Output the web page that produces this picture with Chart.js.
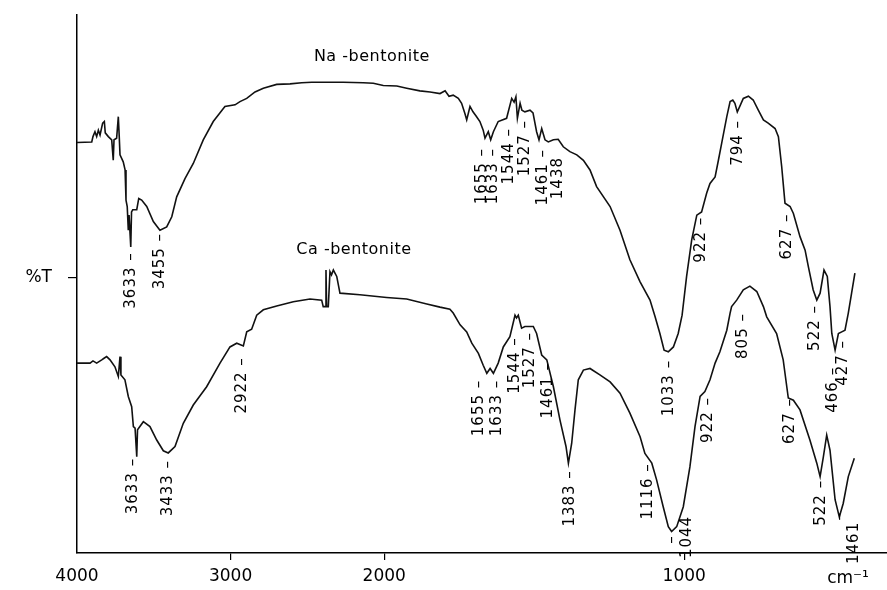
<!DOCTYPE html>
<html>
<head>
<meta charset="utf-8">
<script src="https://cdn.jsdelivr.net/npm/chart.js@4.4.0/dist/chart.umd.min.js"></script>
<style>
  html, body { margin: 0; padding: 0; background: #fff; }
  #wrap { width: 887px; height: 590px; }
</style>
</head>
<body>
<div id="wrap"><canvas id="irChart" width="887" height="590"></canvas></div>
<script>
// Wavenumber axis ticks (cm-1) and the single %T mark
const xTicks = [4000, 3000, 2000, 1000];
const yTicks = [51.2];
const yTickLabels = ["%T"];

// Na-bentonite trace: wavenumber / transmittance (arbitrary %T)
const naWave = [4000,3904,3896,3883,3872,3861,3850,3833,3822,3816,
  3796,3774,3764,3759,3742,3731,3725,3720,3699,3687,
  3681,3673,3666,3661,3650,3645,3637,3611,3598,3579,
  3546,3503,3460,3416,3383,3351,3297,3243,3178,3113,
  3037,2971,2939,2895,2841,2787,2700,2613,2537,2472,
  2374,2266,2136,2071,2006,1958,1925,1881,1847,1814,
  1797,1784,1770,1753,1742,1731,1725,1714,1704,1692,
  1681,1670,1664,1653,1645,1636,1620,1592,1575,1567,
  1561,1556,1547,1541,1531,1514,1504,1492,1484,1475,
  1464,1453,1436,1420,1403,1381,1358,1336,1314,1292,
  1247,1214,1181,1147,1114,1097,1081,1067,1053,1036,
  1020,1007,992,975,958,942,925,914,897,886,
  875,858,847,838,831,823,814,803,786,770,
  753,736,720,697,686,675,670,664,647,636,
  614,597,586,570,558,547,534,523,514,508,
  497,486,475,464,453,442,431];
const naT = [76.3,76.4,77.4,78.3,77.4,78.6,77.7,79.9,80.2,78.1,
  77.4,76.8,73.0,76.8,77.1,81.1,77.4,74.0,72.7,71.2,
  65.6,64.4,60.0,62.8,56.9,63.4,63.8,63.8,65.9,65.6,
  64.4,61.6,60.0,60.6,62.5,66.2,69.6,72.4,76.8,80.2,
  83.0,83.3,83.9,84.5,85.7,86.4,87.1,87.2,87.4,87.5,
  87.5,87.5,87.4,87.3,86.9,86.8,86.4,85.9,85.7,85.4,
  85.9,84.9,85.1,84.5,83.6,81.7,80.5,83.0,82.0,81.1,
  80.2,78.6,77.1,78.3,76.8,78.3,80.2,80.8,84.5,83.8,
  84.8,80.8,83.6,82.3,82.0,82.3,81.8,78.3,76.8,78.9,
  76.8,76.4,76.8,76.9,75.5,74.6,74.0,73.0,71.2,68.1,
  64.4,60.0,54.5,50.4,47.0,43.9,40.8,37.7,37.4,38.3,
  40.8,44.2,51.4,58.2,62.8,63.4,66.9,68.7,69.9,73.0,
  76.2,81.1,83.9,84.2,83.6,82.0,83.1,84.5,84.9,84.2,
  82.3,80.5,79.9,78.9,77.4,71.8,68.7,65.0,64.4,63.1,
  58.8,56.3,53.2,48.9,47.0,48.3,52.6,51.4,45.8,40.8,
  37.7,40.8,41.1,41.4,44.6,48.3,52.0];

// Ca-bentonite trace
const caWave = [4000,3915,3896,3872,3839,3824,3807,3785,3753,3731,
  3720,3714,3688,3666,3644,3633,3622,3611,3606,3568,
  3525,3481,3438,3406,3362,3308,3243,3156,3069,3004,
  2960,2917,2895,2863,2830,2787,2700,2592,2483,2407,
  2397,2384,2379,2375,2364,2353,2343,2331,2309,2288,
  2158,1992,1925,1858,1814,1781,1770,1747,1725,1708,
  1686,1670,1658,1647,1636,1620,1603,1581,1564,1559,
  1553,1542,1531,1503,1492,1475,1458,1436,1414,1394,
  1386,1375,1364,1353,1336,1314,1281,1247,1214,1181,
  1147,1131,1108,1092,1070,1053,1042,1025,1003,981,
  964,947,931,914,897,881,858,847,842,825,
  803,781,758,736,725,692,670,653,636,614,
  581,558,547,536,525,514,497,483,470,453,433];
const caT = [35.3,35.3,35.7,35.3,35.9,36.2,36.5,35.9,34.6,32.8,
  36.5,33.1,32.2,29.1,27.2,23.5,23.2,17.9,22.9,24.4,
  23.5,21.0,19.0,18.6,19.8,24.1,27.5,30.9,35.3,38.3,
  39.0,38.5,41.1,41.6,44.2,45.2,45.9,46.7,47.2,47.0,
  45.8,45.8,52.6,45.8,45.8,52.3,51.7,52.6,51.4,48.3,
  48.0,47.5,47.2,46.3,45.7,45.3,44.6,42.4,41.1,39.0,
  37.1,34.9,33.4,34.3,33.4,35.3,38.3,40.2,44.2,43.7,
  44.2,41.8,42.1,42.1,40.8,36.8,35.9,30.9,24.7,19.8,
  16.7,20.4,26.6,32.2,34.0,34.3,33.1,31.8,29.7,26.0,
  21.6,18.5,16.7,13.6,8.6,4.9,4.0,4.9,8.6,16.0,
  23.5,29.1,30.0,32.2,35.3,37.4,41.4,44.6,45.8,47.0,
  48.9,49.6,48.6,45.8,43.9,40.8,35.9,28.8,28.4,26.6,
  21.0,16.7,14.2,17.9,21.9,19.1,9.9,6.7,9.2,14.2,17.6];

// Band labels: text, axis position, top of the label (in %T units)
const naLabelText = ["3633 –","3455 –","1655 –","1633 –","1544 –","1527 –","1461 –","1438",
  "1033 –","922 –","794 –","627 –","522 –","466 –","427 –"];
const naLabelX = [3650,3460,1674,1637,1584,1531,1471,1421,1051,942,821,658,564,503,470];
const naLabelY = [55.9,59.5,75.3,75.3,79.0,80.5,75.1,73.6,35.9,62.5,80.5,63.1,46.1,34.6,39.6];

const caLabelText = ["3633 –","3433 –","2922 –","1655 –","1633 –","1544 –","1527 –","1461 –",
  "1383 –","1116 –","–","1044","922 –","805 –","627 –","522 –","–","1461"];
const caLabelX = [3635,3408,2928,1684,1624,1564,1514,1454,1381,1121,1041,991,920,803,647,542,481,434];
const caLabelY = [17.7,17.3,36.4,32.2,32.2,40.1,41.1,35.5,15.4,16.7,3.3,6.9,29.0,44.6,28.8,13.6,7.6,5.8];

const seriesNames = ["Na -bentonite", "Ca -bentonite"];
const nameX = [2080, 2197];
const nameY = [92.2, 56.3];
const unitText = "cm⁻¹";

// Spectrometer-style axis: 4000-2000 drawn at about half the scale of 2000-400
const X_BREAK = 2000;
const X_SQUEEZE = 0.512;

class IrScale extends Chart.LinearScale {
  _units(v) {
    if (v >= X_BREAK) return (this.max - v) * X_SQUEEZE;
    return (this.max - X_BREAK) * X_SQUEEZE + (X_BREAK - v);
  }
  getPixelForValue(value) {
    return this.getPixelForDecimal(this._units(value) / this._units(this.min));
  }
  getValueForPixel(pixel) {
    const u = this.getDecimalForPixel(pixel) * this._units(this.min);
    const knee = (this.max - X_BREAK) * X_SQUEEZE;
    return u <= knee ? this.max - u / X_SQUEEZE : X_BREAK - (u - knee);
  }
}
IrScale.id = "ir";
IrScale.defaults = Chart.LinearScale.defaults;
Chart.register(IrScale);

// Text on the plot: band labels, series names, unit
const annotations = {
  id: "annotations",
  afterDatasetsDraw(chart) {
    const { ctx, scales: { x, y } } = chart;
    ctx.save();
    ctx.fillStyle = "#000";
    ctx.font = '15px "DejaVu Sans"';
    ctx.letterSpacing = "1px";
    const put = (texts, xs, ys) => texts.forEach((t, i) => {
      ctx.save();
      ctx.translate(x.getPixelForValue(xs[i]), y.getPixelForValue(ys[i]));
      ctx.rotate(-Math.PI / 2);
      ctx.textAlign = "right";
      ctx.textBaseline = "middle";
      ctx.fillText(t, 0, 0);
      ctx.restore();
    });
    put(naLabelText, naLabelX, naLabelY);
    put(caLabelText, caLabelX, caLabelY);

    ctx.letterSpacing = "0.5px";
    ctx.font = '16px "DejaVu Sans"';
    ctx.textAlign = "center";
    ctx.textBaseline = "middle";
    seriesNames.forEach((n, i) => {
      ctx.fillText(n, x.getPixelForValue(nameX[i]), y.getPixelForValue(nameY[i]));
    });

    ctx.letterSpacing = "0px";
    ctx.font = '17px "DejaVu Sans"';
    ctx.fillText(unitText, chart.width - 39, chart.height - 11);
    ctx.restore();
  }
};

const trace = (wave, t) => wave.map((w, i) => ({ x: w, y: t[i] }));

new Chart(document.getElementById("irChart"), {
  type: "line",
  data: {
    datasets: [
      { label: seriesNames[0], data: trace(naWave, naT), borderColor: "#111", borderWidth: 1.6,
        pointRadius: 0, tension: 0, fill: false },
      { label: seriesNames[1], data: trace(caWave, caT), borderColor: "#111", borderWidth: 1.6,
        pointRadius: 0, tension: 0, fill: false },
    ],
  },
  options: {
    responsive: false,
    animation: false,
    events: [],
    layout: { padding: { top: 15, left: 0, right: 0, bottom: 0 } },
    plugins: { legend: { display: false }, tooltip: { enabled: false } },
    scales: {
      x: {
        type: "ir",
        min: 324,
        max: 4000,
        afterBuildTicks: (s) => { s.ticks = xTicks.map((v) => ({ value: v })); },
        afterFit: (s) => { s.height = 37; s.paddingLeft = 0; s.paddingRight = 0; },
        border: { color: "#000", width: 1.5 },
        grid: {
          drawOnChartArea: false,
          tickLength: 7,
          lineWidth: 1.2,
          tickColor: (c) => (c.tick && c.tick.value === 4000 ? "rgba(0,0,0,0)" : "#000"),
        },
        ticks: {
          color: "#000",
          font: { family: "DejaVu Sans", size: 17 },
          padding: 6,
          maxRotation: 0,
          autoSkip: false,
          callback: (v) => String(v),
        },
      },
      y: {
        min: 0,
        max: 100,
        afterBuildTicks: (s) => { s.ticks = yTicks.map((v) => ({ value: v })); },
        afterFit: (s) => { s.width = 77; s.paddingTop = 0; s.paddingBottom = 0; },
        border: { color: "#000", width: 1.5 },
        grid: { drawOnChartArea: false, tickLength: 9, lineWidth: 1.2, tickColor: "#000" },
        ticks: {
          color: "#000",
          font: { family: "DejaVu Sans", size: 17 },
          padding: 16,
          callback: (v, i) => yTickLabels[i],
        },
      },
    },
  },
  plugins: [annotations],
});
</script>
</body>
</html>
